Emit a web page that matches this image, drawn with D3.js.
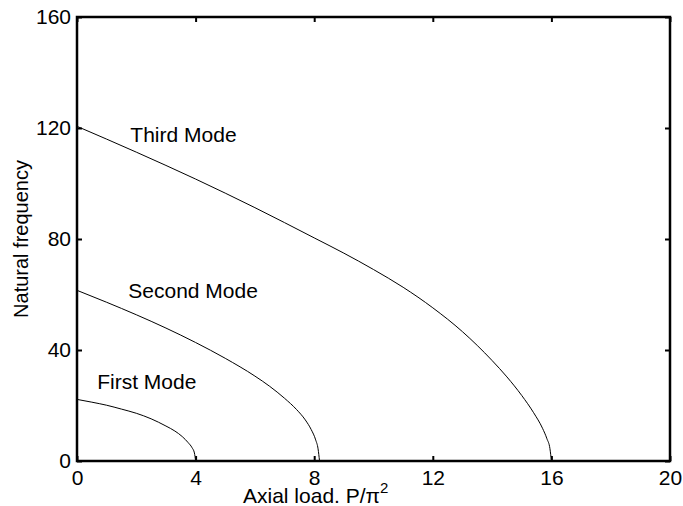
<!DOCTYPE html>
<html><head><meta charset="utf-8">
<script src="https://cdn.jsdelivr.net/npm/d3@7"></script>
<style>body{margin:0;background:#fff}svg{display:block}text{font-family:"Liberation Sans",Arial,Helvetica,sans-serif;fill:#000}</style>
</head><body>
<script>
const xTicks = [0, 4, 8, 12, 16, 20];
const yTicks = [0, 40, 80, 120, 160];
const modeNames = ["First Mode", "Second Mode", "Third Mode"];
const firstLoad  = [0, 0.5, 1.0, 1.5, 2.0, 2.5, 3.0, 3.3, 3.55, 3.75, 3.88, 3.96, 4.0];
const firstFreq  = [22.2, 21.2, 20.1, 18.7, 17.2, 15.2, 12.6, 10.8, 8.8, 6.6, 4.8, 2.9, 0];
const secondLoad = [0, 1, 2, 3, 4, 5, 6, 6.5, 7, 7.4, 7.7, 7.9, 8.05, 8.13, 8.18];
const secondFreq = [61.5, 57.2, 52.7, 47.9, 42.7, 37.0, 30.6, 26.9, 22.6, 18.6, 14.8, 11.3, 7.6, 4.4, 0];
const thirdLoad  = [0, 2, 4, 6, 8, 9, 10, 11, 12, 13, 14, 14.5, 15, 15.4, 15.7, 15.85, 15.95, 16.0];
const thirdFreq  = [120.6, 111.3, 101.6, 91.3, 80.4, 74.9, 69.0, 62.6, 55.2, 46.6, 36.2, 30.3, 23.6, 17.4, 11.8, 8.0, 4.5, 0];

const W = 683, H = 506;
const m = {left: 77, right: 13, top: 17, bottom: 45};
const svg = d3.select("body").append("svg").attr("width", W).attr("height", H);
svg.append("rect").attr("width", W).attr("height", H).attr("fill", "#fff");

const x = d3.scaleLinear().domain([0, 20]).range([m.left, W - m.right]);
const y = d3.scaleLinear().domain([0, 160]).range([H - m.bottom, m.top]);

const fs = "21px";
// bottom axis
const gx = svg.append("g").attr("transform", `translate(0,${y(0)})`)
  .call(d3.axisBottom(x).tickValues(xTicks).tickSize(-5).tickSizeOuter(0).tickPadding(9));
gx.selectAll("text").style("font-size", fs);
// top ticks
svg.append("g").attr("transform", `translate(0,${y(160)})`)
  .call(d3.axisTop(x).tickValues(xTicks).tickSize(-5).tickSizeOuter(0).tickFormat(""));
// left axis
const gy = svg.append("g").attr("transform", `translate(${x(0)},0)`)
  .call(d3.axisLeft(y).tickValues(yTicks).tickSize(-5).tickSizeOuter(0).tickPadding(6));
gy.selectAll("text").style("font-size", fs);
// right ticks
svg.append("g").attr("transform", `translate(${x(20)},0)`)
  .call(d3.axisRight(y).tickValues(yTicks).tickSize(-5).tickSizeOuter(0).tickFormat(""));

svg.selectAll(".domain").remove();
svg.selectAll(".tick line").attr("stroke", "#000").attr("stroke-width", 2);

// box
svg.append("rect").attr("x", x(0)).attr("y", y(160))
  .attr("width", x(20) - x(0)).attr("height", y(0) - y(160))
  .attr("fill", "none").attr("stroke", "#000").attr("stroke-width", 2.5);

const line = d3.line().x(d => x(d[0])).y(d => y(d[1])).curve(d3.curveMonotoneX);
const series = [
  d3.zip(firstLoad, firstFreq),
  d3.zip(secondLoad, secondFreq),
  d3.zip(thirdLoad, thirdFreq)
];
svg.selectAll("path.mode").data(series).enter().append("path")
  .attr("class", "mode").attr("d", line)
  .attr("fill", "none").attr("stroke", "#000").attr("stroke-width", 1);

// mode labels
const labelPos = [[0.68, 26.0], [1.73, 58.8], [1.8, 115.0]];
svg.selectAll("text.lab").data(modeNames).enter().append("text")
  .attr("class", "lab")
  .attr("x", (d, i) => x(labelPos[i][0]))
  .attr("y", (d, i) => y(labelPos[i][1]))
  .style("font-size", fs)
  .text(d => d);

// axis titles
const xt = svg.append("text").attr("x", 243).attr("y", 503).style("font-size", fs);
xt.append("tspan").text("Axial load. P/\u03c0");
xt.append("tspan").attr("dy", -10).style("font-size", "15px").text("2");

svg.append("text")
  .attr("transform", `translate(28,${(y(0) + y(160)) / 2}) rotate(-90)`)
  .attr("text-anchor", "middle")
  .style("font-size", "20px")
  .text("Natural frequency");
</script>
</body></html>
